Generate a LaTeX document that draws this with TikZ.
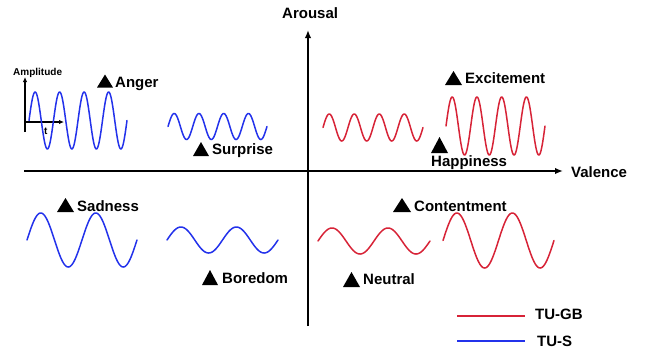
\documentclass[tikz,border=0pt]{standalone}
\usepackage{fontspec}
\setmainfont{Liberation Sans}
\usetikzlibrary{arrows.meta}
\definecolor{wblue}{RGB}{35,50,235}
\definecolor{wred}{RGB}{215,35,55}
\begin{document}
\begin{tikzpicture}[x=1pt,y=-1pt,
  lbl/.style={anchor=base west,inner sep=0pt,font=\bfseries\fontsize{15}{18}\selectfont},
  small/.style={anchor=base west,inner sep=0pt,font=\bfseries\fontsize{10}{12}\selectfont},
  axis/.style={line width=2.6pt,-{Latex[length=8pt,width=6.5pt]}},
  inset/.style={line width=1.6pt,-{Latex[length=5pt,width=4.5pt]}},
  wave/.style={line width=1.5pt,line join=round,line cap=round},
  bluewave/.style={wave,wblue},
  redwave/.style={wave,wred}]
\useasboundingbox (0,0) rectangle (650,349);
% axes
\coordinate (hs) at (24,171);
\coordinate (he) at (563,171);
\coordinate (vs) at (308,326);
\coordinate (ve) at (308,30);
\draw[axis] (hs) -- (he);
\draw[axis] (vs) -- (ve);
\node[lbl] (arousal) at (282,18.5) {Arousal};
\node[lbl] (valence) at (571,177.5) {Valence};
% inset axes
\coordinate (is) at (25,132);
\coordinate (ie) at (25,77);
\coordinate (ts) at (25,122);
\coordinate (te) at (64,122);
\draw[inset] (is) -- (ie);
\draw[inset] (ts) -- (te);
\node[small] (amp) at (13,75.5) {Amplitude};
\node[small] (tlab) at (44,134) {t};
% waves
\draw[bluewave] plot[domain=0:98,samples=400] ({29+\x},{120.5-28.5*sin(14.6939*\x)});
\draw[bluewave] plot[domain=0:99,samples=400] ({168+\x},{126.5-13*sin(14.5455*\x)});
\draw[redwave] plot[domain=0:100,samples=400] ({323+\x},{127.5-13.5*sin(14.4*\x)});
\draw[redwave] plot[domain=0:99,samples=400] ({446+\x},{126-29*sin(14.5455*\x)});
\draw[bluewave] plot[domain=0:110,samples=300] ({27+\x},{240-27*sin(6.54545*\x)});
\draw[bluewave] plot[domain=0:111,samples=300] ({167+\x},{240-13*sin(6.48649*\x)});
\draw[redwave] plot[domain=0:112,samples=300] ({318+\x},{241-13*sin(6.42857*\x)});
\draw[redwave] plot[domain=0:111,samples=300] ({443+\x},{240.5-27.5*sin(6.48649*\x)});
% labels
\node[lbl] (anger) at (115,87.5) {Anger};
\node[lbl] (surprise) at (212,154.5) {Surprise};
\node[lbl] (excitement) at (465,83.5) {Excitement};
\node[lbl] (happiness) at (431,166) {Happiness};
\node[lbl] (sadness) at (77,211.5) {Sadness};
\node[lbl] (boredom) at (222,283.5) {Boredom};
\node[lbl] (neutral) at (363,284.5) {Neutral};
\node[lbl] (contentment) at (414,211.5) {Contentment};
% triangles
\fill ([xshift=-18pt]anger.base west) -- ++(16,0) -- ++(-8,-13) -- cycle;
\fill ([xshift=-19pt,yshift=-1.5pt]surprise.base west) -- ++(16,0) -- ++(-8,-14) -- cycle;
\fill ([xshift=-20pt,yshift=-1.5pt]excitement.base west) -- ++(17,0) -- ++(-8.5,-14) -- cycle;
\fill ([yshift=13pt]happiness.base west) -- ++(17,0) -- ++(-8.5,-16) -- cycle;
\fill ([xshift=-20pt,yshift=-0.5pt]sadness.base west) -- ++(17,0) -- ++(-8.5,-14) -- cycle;
\fill ([xshift=-20pt,yshift=-1.5pt]boredom.base west) -- ++(16,0) -- ++(-8,-15) -- cycle;
\fill ([xshift=-20pt,yshift=-2.5pt]neutral.base west) -- ++(17,0) -- ++(-8.5,-15) -- cycle;
\fill ([xshift=-21pt,yshift=-0.5pt]contentment.base west) -- ++(18,0) -- ++(-9,-14) -- cycle;
% legend
\coordinate (rl1) at (457,316);
\coordinate (rl2) at (525,316);
\coordinate (bl1) at (457,341);
\coordinate (bl2) at (525,341);
\draw[wred,line width=1.5pt] (rl1) -- (rl2);
\draw[wblue,line width=1.5pt] (bl1) -- (bl2);
\node[lbl] (tugb) at (535,319.5) {TU-GB};
\node[lbl] (tus) at (537,346.5) {TU-S};
\end{tikzpicture}
\end{document}
